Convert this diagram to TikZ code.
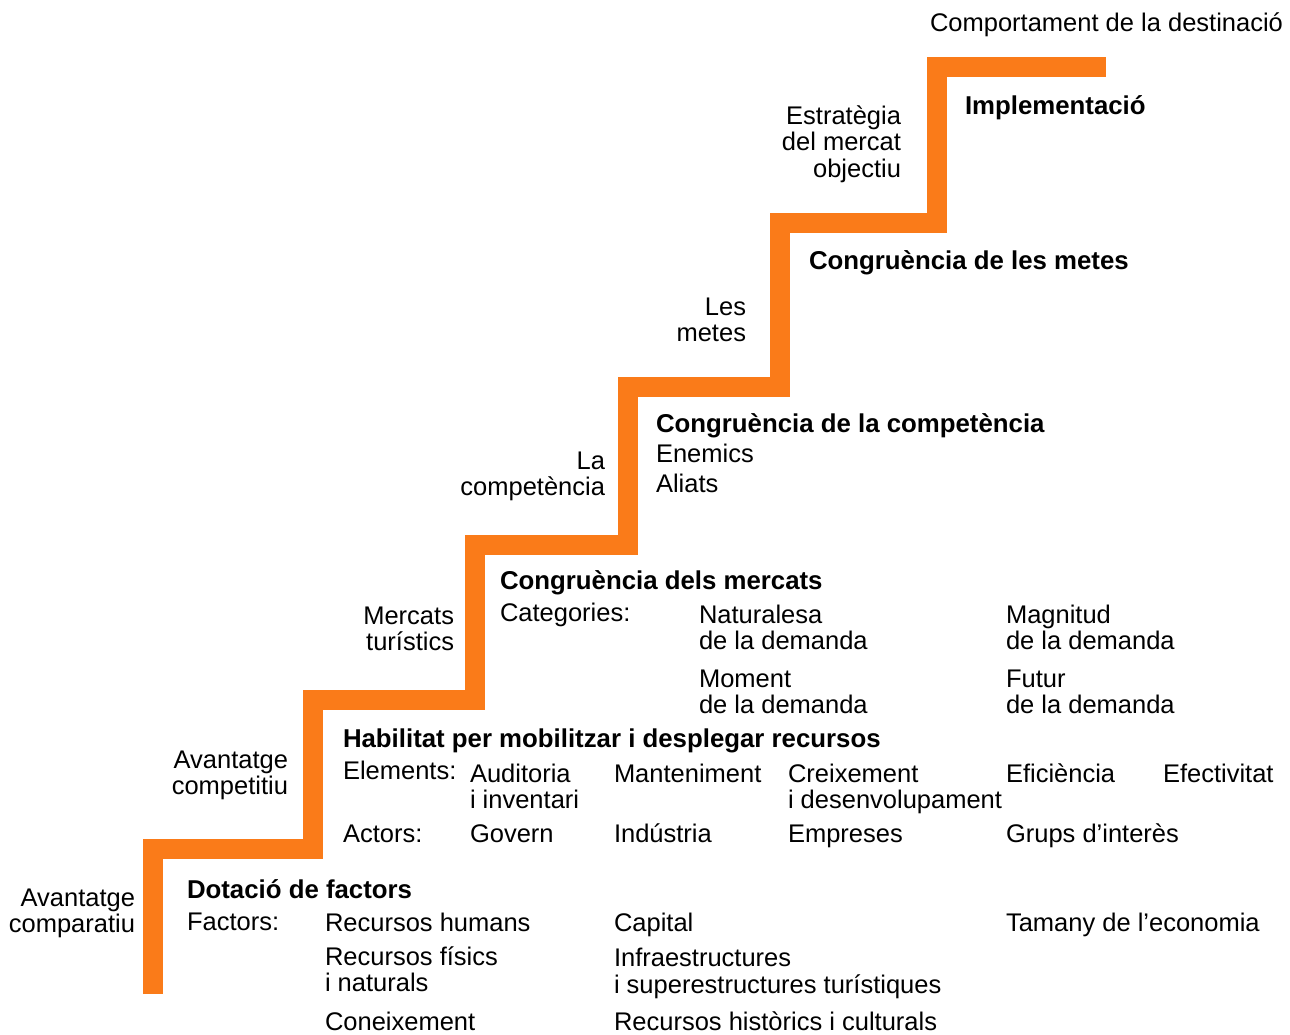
\documentclass[tikz,border=0pt]{standalone}
\usepackage{fontspec}
\setmainfont{Liberation Sans}
\definecolor{stairorange}{RGB}{250,123,25}
\begin{document}
\begin{tikzpicture}[x=1pt,y=-1pt,
  every node/.style={inner sep=0pt,outer sep=0pt,font=\fontsize{25.5}{26.5}\selectfont},
  lt/.style={anchor=base west,align=left},
  rt/.style={anchor=base east,align=right},
  hd/.style={anchor=base west,align=left,font=\fontsize{25.8}{26.5}\selectfont\bfseries},
  stair/.style={draw=stairorange,line width=20pt,line cap=butt,line join=miter}]
\useasboundingbox (0,0) rectangle (1290,1034);
% staircase
\coordinate (s0) at (153.3,994);
\coordinate (s1) at (153.3,848.5);
\coordinate (s2) at (313.3,848.5);
\coordinate (s3) at (313.3,700.3);
\coordinate (s4) at (475.3,700.3);
\coordinate (s5) at (475.3,544.5);
\coordinate (s6) at (628.3,544.5);
\coordinate (s7) at (628.3,387);
\coordinate (s8) at (779.7,387);
\coordinate (s9) at (779.7,222.5);
\coordinate (s10) at (936.7,222.5);
\coordinate (s11) at (936.7,66.7);
\coordinate (s12) at (1106,66.7);
\draw[stair] (s0) -- (s1) -- (s2) -- (s3) -- (s4) -- (s5) -- (s6) -- (s7) -- (s8) -- (s9) -- (s10) -- (s11) -- (s12);
% top (multi-line nodes are placed by the baseline of their last line)
\node[lt] (comp) at (930,31) {Comportament de la destinació};
\node[hd] (impl) at (965,114) {Implementació};
\node[rt] (estr) at (901,177) {Estratègia\\del mercat\\objectiu};
% metes
\node[hd] (cmet) at (809,269) {Congruència de les metes};
\node[rt] (lesm) at (746,341.5) {Les\\metes};
% competencia
\node[hd] (ccom) at (656,432) {Congruència de la competència};
\node[lt] (enem) at (656,462) {Enemics};
\node[lt] (alia) at (656,492) {Aliats};
\node[rt] (lcom) at (605,495.5) {La\\competència};
% mercats
\node[hd] (cmer) at (500,589) {Congruència dels mercats};
\node[lt] (cate) at (500,621) {Categories:};
\node[lt] (natu) at (699,649.5) {Naturalesa\\de la demanda};
\node[lt] (magn) at (1006,649.5) {Magnitud\\de la demanda};
\node[lt] (mome) at (699,713.5) {Moment\\de la demanda};
\node[lt] (futu) at (1006,713.5) {Futur\\de la demanda};
\node[rt] (mtur) at (454,650.5) {Mercats\\turístics};
% habilitat
\node[hd] (habi) at (343,747) {Habilitat per mobilitzar i desplegar recursos};
\node[lt] (elem) at (343,779) {Elements:};
\node[lt] (audi) at (470,808.5) {Auditoria\\i inventari};
\node[lt] (mant) at (614,782) {Manteniment};
\node[lt] (crei) at (788,808.5) {Creixement\\i desenvolupament};
\node[lt] (efic) at (1006,782) {Eficiència};
\node[lt] (efec) at (1163,782) {Efectivitat};
\node[lt] (acto) at (343,842) {Actors:};
\node[lt] (gove) at (470,842) {Govern};
\node[lt] (indu) at (614,842) {Indústria};
\node[lt] (empr) at (788,842) {Empreses};
\node[lt] (grup) at (1006,842) {Grups d’interès};
\node[rt] (avco) at (288,794.5) {Avantatge\\competitiu};
% dotacio
\node[hd] (dota) at (187,898) {Dotació de factors};
\node[lt] (fact) at (187,930) {Factors:};
\node[lt] (rhum) at (325,931) {Recursos humans};
\node[lt] (capi) at (614,931) {Capital};
\node[lt] (tama) at (1006,931) {Tamany de l’economia};
\node[lt] (rfis) at (325,991.5) {Recursos físics\\i naturals};
\node[lt] (infr) at (614,993) {Infraestructures\\i superestructures turístiques};
\node[lt] (cone) at (325,1030) {Coneixement};
\node[lt] (rhis) at (614,1030) {Recursos històrics i culturals};
\node[rt] (avcm) at (135,932.5) {Avantatge\\comparatiu};
\end{tikzpicture}
\end{document}
